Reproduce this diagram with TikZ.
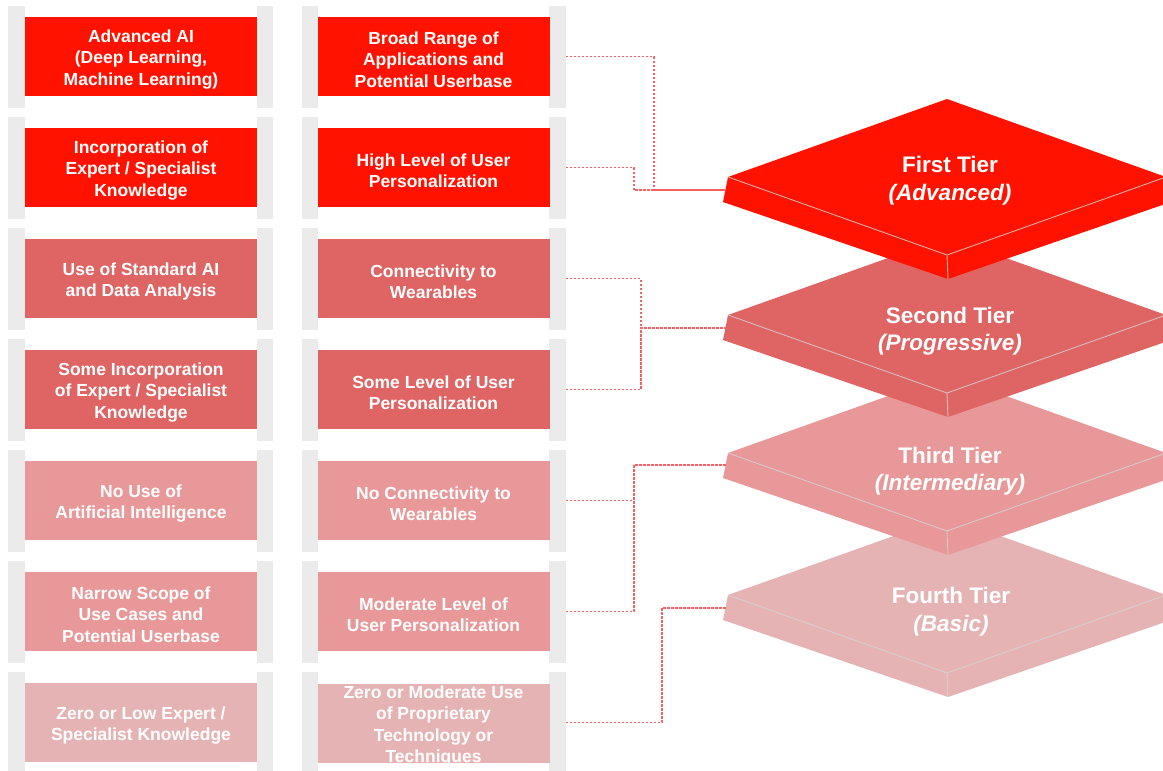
\documentclass[tikz,border=0pt]{standalone}
\usepackage{fontspec}
\setmainfont{Liberation Sans}
\definecolor{tA}{HTML}{FF1300}
\definecolor{tB}{HTML}{DF6464}
\definecolor{tC}{HTML}{E89898}
\definecolor{tD}{HTML}{E5B3B3}
\definecolor{barg}{HTML}{EBEBEB}
\definecolor{connc}{HTML}{F66060}
\definecolor{edgec}{HTML}{D4D4D4}
\newcommand\tierslab[2]{%
  \fill[#2] (728,#1) -- (947,{#1-78}) -- (1166,#1) -- (1171,{#1+25}) -- (948,{#1+102}) -- (723,{#1+25}) -- cycle;
  \draw[edgeln] (728,#1) -- (947,{#1+78}) -- (1166,#1);
  \draw[edgeln] (947,{#1+78}) -- (948,{#1+102});
}
% #1 name, #2 x, #3 y, #4 colour, #5 text
\newcommand\cellbox[5]{%
  \node[box, fill=#4] (#1) at (#2,#3) {};
  \node[boxtxt] (#1t) at ([yshift=-3pt]#1.center) {#5};
}
\begin{document}
\begin{tikzpicture}[x=1pt,y=-1pt,
  bar/.style={fill=barg, draw=none, minimum width=16.5, minimum height=102, inner sep=0},
  box/.style={draw=none, minimum width=232, minimum height=79, inner sep=0},
  boxtxt/.style={inner sep=0, align=center, text=white, font=\fontsize{17.5}{21.5}\selectfont\bfseries},
  conn/.style={draw=connc, line width=1.6, dash pattern=on 2.4pt off 1.6pt},
  tiertxt/.style={text=white, font=\fontsize{22.5}{27}\selectfont\bfseries, inner sep=0, anchor=base},
  edgeln/.style={draw=edgec, draw opacity=0.8, line width=0.9}]
\useasboundingbox (0,0) rectangle (1163,771);
\fill[white] (0,0) rectangle (1163,771);

% gray side bars
\foreach \r in {1,...,7}{
  \pgfmathsetmacro\yc{56.5+111*(\r-1)}
  \node[bar] (L1-\r) at (16.5,\yc) {};
  \node[bar] (R1-\r) at (265,\yc) {};
  \node[bar] (L2-\r) at (310,\yc) {};
  \node[bar] (R2-\r) at (557.5,\yc) {};
}

% column 1
\cellbox{a1}{141}{56.5}{tA}{Advanced AI\\(Deep Learning,\\Machine Learning)}
\cellbox{a2}{141}{167.5}{tA}{Incorporation of\\Expert / Specialist\\Knowledge}
\cellbox{a3}{141}{278.5}{tB}{Use of Standard AI\\and Data Analysis}
\cellbox{a4}{141}{389.5}{tB}{Some Incorporation\\of Expert / Specialist\\Knowledge}
\cellbox{a5}{141}{500.5}{tC}{No Use of\\Artificial Intelligence}
\cellbox{a6}{141}{611.5}{tC}{Narrow Scope of\\Use Cases and\\Potential Userbase}
\cellbox{a7}{141}{722.5}{tD}{Zero or Low Expert /\\Specialist Knowledge}

% column 2
\cellbox{b1}{433.5}{56.5}{tA}{Broad Range of\\Applications and\\Potential Userbase}
\cellbox{b2}{433.5}{167.5}{tA}{High Level of User\\Personalization}
\cellbox{b3}{433.5}{278.5}{tB}{Connectivity to\\Wearables}
\cellbox{b4}{433.5}{389.5}{tB}{Some Level of User\\Personalization}
\cellbox{b5}{433.5}{500.5}{tC}{No Connectivity to\\Wearables}
\cellbox{b6}{433.5}{611.5}{tC}{Moderate Level of\\User Personalization}
\cellbox{b7}{433.5}{723}{tD}{Zero or Moderate Use\\of Proprietary\\Technology or\\Techniques}

% tier slabs (back to front)
\tierslab{595}{tD}
\tierslab{453}{tC}
\tierslab{315}{tB}
\tierslab{177}{tA}

\coordinate (T1L) at (725.5,190);
\coordinate (T2L) at (725.5,328);
\coordinate (T3L) at (725.5,465);
\coordinate (T4L) at (727,608);

% tier labels
\node[tiertxt] (t1a) at (950,172) {First Tier};
\node[tiertxt] (t1b) at (950,200) {\itshape(Advanced)};
\node[tiertxt] (t2a) at (950,323) {Second Tier};
\node[tiertxt] (t2b) at (950,350) {\itshape(Progressive)};
\node[tiertxt] (t3a) at (950,463) {Third Tier};
\node[tiertxt] (t3b) at (950,490) {\itshape(Intermediary)};
\node[tiertxt] (t4a) at (951,603) {Fourth Tier};
\node[tiertxt] (t4b) at (951,631) {\itshape(Basic)};

% connectors
\draw[conn] (R2-1.east) -- ++(88,0) |- (T1L);
\draw[conn] (R2-2.east) -- ++(68,0) |- (T1L);
\draw[conn] (R2-3.east) -- ++(75,0) |- (T2L);
\draw[conn] (R2-4.east) -- ++(75,0) |- (T2L);
\draw[conn] (R2-5.east) -- ++(68,0);
\draw[conn] (R2-6.east) -- ++(68,0) |- (T3L);
\draw[conn] (R2-7.east) -- ++(96,0) |- (T4L);
\end{tikzpicture}
\end{document}
